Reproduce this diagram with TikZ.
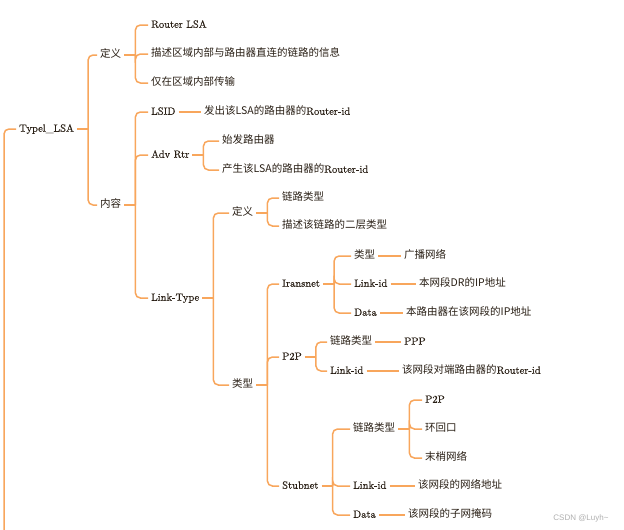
\documentclass[tikz,border=0pt]{standalone}
\usepackage{fontspec}
\usepackage{tikz}
\usetikzlibrary{positioning, calc}
\setmainfont{Latin Modern Roman}[UprightFeatures={FakeBold=0.3}]
\newfontfamily\cjk{Noto Sans CJK SC}
\newfontfamily\wmfont{Liberation Sans}
\newcommand{\zh}[1]{{\cjk #1}}
\definecolor{myorange}{RGB}{248,166,92}
\definecolor{mydark}{RGB}{40,30,20}
\definecolor{mywater}{RGB}{175,175,175}
\tikzset{
  topic/.style={anchor=west, inner xsep=3pt, inner ysep=1pt,
    text height=8pt, text depth=2.5pt, text=mydark,
    font=\fontsize{10.5}{12}\selectfont},
  branch/.style={color=myorange, line width=1.5pt},
  forkline/.style={color=myorange, line width=1.5pt, rounded corners=5pt},
  watermark/.style={font=\wmfont\fontsize{8}{9}\selectfont, text=mywater}
}
\newcommand{\forkto}[2]{%
  \draw[branch] (#1.east) -- ++(11,0) coordinate (#1-b);
  \foreach \kid in {#2} \draw[forkline] (#1-b) |- (\kid.west);
}

\begin{document}
\begin{tikzpicture}[x=1pt, y=-1pt]
  \useasboundingbox (0,0) rectangle (624,530);
  % root
  \node[topic] (root) at (16,129) {Typel\_LSA};
  \coordinate (rootend) at (4,530);
  \draw[forkline] (root.west) -| (rootend);
  \node[topic] (def) at (97,55) {\zh{定义}};
  \node[topic] (cont) at (97,205) {\zh{内容}};
  \forkto{root}{def,cont}
  % Definition
  \node[topic] (d1) at (148,25) {Router LSA};
  \node[topic] (d2) at (148,54) {\zh{描述区域内部与路由器直连的链路的信息}};
  \node[topic] (d3) at (148,83) {\zh{仅在区域内部传输}};
  \forkto{def}{d1,d2,d3}
  % Content
  \node[topic] (lsid) at (148,112) {LSID};
  \node[topic] (adv) at (148,155) {Adv Rtr};
  \node[topic] (lt) at (148,298) {Link-Type};
  \forkto{cont}{lsid,adv,lt}
  \node[topic] (lsidv) at (201,112) {\zh{发出该LSA的路由器的}Router-id};
  \draw[branch] (lsid.east) -- (lsidv.west);
  \node[topic] (adv1) at (219,141) {\zh{始发路由器}};
  \node[topic] (adv2) at (219,170) {\zh{产生该LSA的路由器的}Router-id};
  \forkto{adv}{adv1,adv2}
  % Link-Type
  \node[topic] (ltdef) at (229,213) {\zh{定义}};
  \node[topic] (lttype) at (229,385) {\zh{类型}};
  \forkto{lt}{ltdef,lttype}
  \node[topic] (ltd1) at (279,198) {\zh{链路类型}};
  \node[topic] (ltd2) at (279,226) {\zh{描述该链路的二层类型}};
  \forkto{ltdef}{ltd1,ltd2}
  \node[topic] (tr) at (279,284) {Iransnet};
  \node[topic] (p2p) at (279,357) {P2P};
  \node[topic] (stub) at (279,486) {Stubnet};
  \forkto{lttype}{tr,p2p,stub}
  % Transit
  \node[topic] (trt) at (351,256) {\zh{类型}};
  \node[topic] (trl) at (351,284) {Link-id};
  \node[topic] (trd) at (351,313) {Data};
  \forkto{tr}{trt,trl,trd}
  \node[topic] (trtv) at (401,256) {\zh{广播网络}};
  \node[topic] (trlv) at (416,284) {\zh{本网段DR的IP地址}};
  \node[topic] (trdv) at (403,313) {\zh{本路由器在该网段的IP地址}};
  \draw[branch] (trt.east) -- (trtv.west);
  \draw[branch] (trl.east) -- (trlv.west);
  \draw[branch] (trd.east) -- (trdv.west);
  % Point-to-point
  \node[topic] (p2t) at (327,342) {\zh{链路类型}};
  \node[topic] (p2l) at (327,371) {Link-id};
  \forkto{p2p}{p2t,p2l}
  \node[topic] (p2tv) at (401,342) {PPP};
  \node[topic] (p2lv) at (399,371) {\zh{该网段对端路由器的}Router-id};
  \draw[branch] (p2t.east) -- (p2tv.west);
  \draw[branch] (p2l.east) -- (p2lv.west);
  % Stub
  \node[topic] (stt) at (350,429) {\zh{链路类型}};
  \node[topic] (stl) at (350,486) {Link-id};
  \node[topic] (std) at (350,515) {Data};
  \forkto{stub}{stt,stl,std}
  \node[topic] (st1) at (422,400) {P2P};
  \node[topic] (st2) at (422,429) {\zh{环回口}};
  \node[topic] (st3) at (422,458) {\zh{末梢网络}};
  \forkto{stt}{st1,st2,st3}
  \node[topic] (stlv) at (415,486) {\zh{该网段的网络地址}};
  \node[topic] (stdv) at (405,515) {\zh{该网段的子网掩码}};
  \draw[branch] (stl.east) -- (stlv.west);
  \draw[branch] (std.east) -- (stdv.west);
  % watermark
  \node[watermark, anchor=east] (wm) at (612,518) {CSDN @Luyh\textasciitilde};
\end{tikzpicture}
\end{document}
